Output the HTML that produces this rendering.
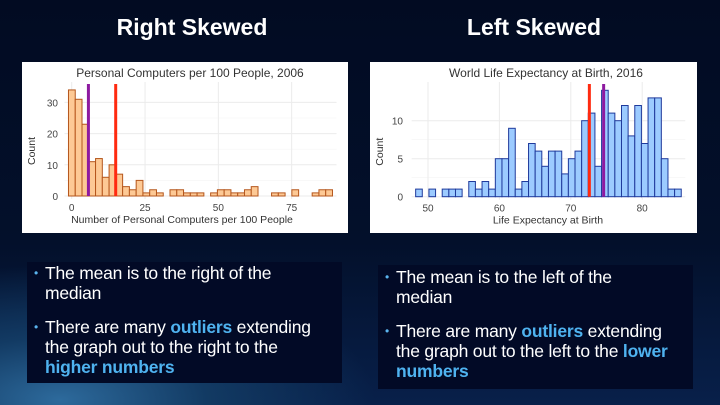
<!DOCTYPE html>
<html><head><meta charset="utf-8"><style>
body{margin:0;width:720px;height:405px;overflow:hidden;font-family:"Liberation Sans",Arial,sans-serif}
#bg{position:absolute;left:0;top:0;width:720px;height:405px;background:radial-gradient(ellipse 420px 180px at 60px 400px,#2d6a9c 0%,#123a63 35%,rgba(4,14,40,0) 75%),linear-gradient(180deg,#020b22 0%,#03102b 60%,#08204a 100%)}
.h{position:absolute;top:14px;color:#fff;font-weight:bold;font-size:23px;width:300px;text-align:center}
.panel{position:absolute;background:#fff}
.box{position:absolute;background:#020a26;color:#fff;font-size:17.5px;line-height:20px;letter-spacing:-0.2px}
.box ul{margin:0;padding:0 0 0 18px;list-style:none}
.box li{position:relative;margin-bottom:14px}
.box li:before{content:"•";position:absolute;left:-11px;color:#5ab4ee;font-size:12px}
.hl{color:#4fb3f0;font-weight:bold}
svg text{font-family:"Liberation Sans",Arial,sans-serif}
</style></head><body>
<div id="bg"></div>
<div class="h" style="left:42px">Right Skewed</div>
<div class="h" style="left:384px">Left Skewed</div>
<svg class="panel" style="left:22px;top:62px" width="326" height="171" id="c1"></svg>
<svg class="panel" style="left:370px;top:62px" width="327" height="171" id="c2"></svg>
<div class="box" style="left:27px;top:262px;width:315px;height:120px;padding-top:1px">
<ul style="width:282px"><li>The mean is to the right of the median</li>
<li>There are many <span class="hl">outliers</span> extending the graph out to the right to the <span class="hl">higher numbers</span></li></ul></div>
<div class="box" style="left:378px;top:265px;width:315px;height:122px;padding-top:2px">
<ul style="width:272px"><li>The mean is to the left of the median</li>
<li>There are many <span class="hl">outliers</span> extending the graph out to the left to the <span class="hl">lower numbers</span></li></ul></div>
<script>
const pcCounts=[34,31,23,11,12,6,10,7,3,2,5,1,2,1,0,2,2,1,1,1,0,1,2,2,1,1,2,3,0,0,1,1,0,2,0,0,1,2,2];
const pcStart=-1.1, pcBin=2.308;
const pcXTicks=[0,25,50,75], pcYTicks=[0,10,20,30];
const pcMean=15.0, pcMedian=5.7;
const leCounts=[1,0,1,0,1,1,1,0,2,1,2,1,5,5,9,1,2,7,6,4,6,6,3,5,6,10,11,4,14,11,10,12,8,12,7,13,13,5,1,1];
const leStart=48.27, leBin=0.93;
const leXTicks=[50,60,70,80], leYTicks=[0,5,10];
const leMean=72.6, leMedian=74.6;
const NS="http://www.w3.org/2000/svg";
function mk(svg,tag,attrs,txt){const e=document.createElementNS(NS,tag);for(const k in attrs)e.setAttribute(k,attrs[k]);if(txt!==undefined)e.textContent=txt;svg.appendChild(e);return e;}
function draw(id,o){
 const svg=document.getElementById(id);
 const sx=v=>o.x0+(v-o.v0)*o.kx, sy=c=>o.y0-c*o.ky;
 const t=mk(svg,'text',{x:o.tx,y:15,'font-size':12,fill:'#333','text-anchor':'middle'},o.title);
 
 const xmin=sx(o.start)-4,xmax=sx(o.start+o.counts.length*o.bin)+4;
 o.yt.forEach((v,i)=>{mk(svg,'line',{x1:xmin,x2:xmax,y1:sy(v),y2:sy(v),stroke:'#ebebeb','stroke-width':1});
  if(i<o.yt.length-1){const m=(v+o.yt[i+1])/2;mk(svg,'line',{x1:xmin,x2:xmax,y1:sy(m),y2:sy(m),stroke:'#f4f4f4','stroke-width':0.6});}
  const l=mk(svg,'text',{x:o.lx,y:sy(v)+4,'font-size':10,fill:'#444','text-anchor':'end'},v);
  });
 o.xt.forEach(v=>{mk(svg,'line',{x1:sx(v),x2:sx(v),y1:20,y2:o.y0+3,stroke:'#ebebeb','stroke-width':1});
  const l=mk(svg,'text',{x:sx(v),y:o.y0+15,'font-size':10,fill:'#444','text-anchor':'middle'},v);
  });
 o.counts.forEach((c,i)=>{const x1=sx(o.start+i*o.bin),x2=sx(o.start+(i+1)*o.bin);
  const r=mk(svg,'rect',{x:x1,y:sy(c),width:x2-x1,height:c*o.ky,fill:o.fill,stroke:o.stroke,'stroke-width':1});
  });
 [[o.mean,'#ff2a10','mean-line'],[o.median,'#8e1aa0','median-line']].forEach(([v,c,n])=>{
  const l=mk(svg,'line',{x1:sx(v),x2:sx(v),y1:22,y2:o.y0,stroke:c,'stroke-width':3});
  });
 const xl=mk(svg,'text',{x:o.xlx,y:o.y0+27,'font-size':10.5,fill:'#333','text-anchor':'middle'},o.xlab);
 
 const yl=mk(svg,'text',{x:0,y:0,'font-size':10.5,fill:'#333','text-anchor':'middle',transform:`translate(13,${o.y0-45}) rotate(-90)`},'Count');
 
}
draw('c1',{counts:pcCounts,start:pcStart,bin:pcBin,xt:pcXTicks,yt:pcYTicks,mean:pcMean,median:pcMedian,
 x0:49.7,v0:0,kx:2.933,y0:134,ky:3.12,lx:36,fill:'#fdc995',stroke:'#b5561c',title:'Personal Computers per 100 People, 2006',tx:168,xlab:'Number of Personal Computers per 100 People',xlx:160});
draw('c2',{counts:leCounts,start:leStart,bin:leBin,xt:leXTicks,yt:leYTicks,mean:leMean,median:leMedian,
 x0:58,v0:50,kx:7.14,y0:134.7,ky:7.6,lx:33,fill:'#9ccbff',stroke:'#1f3a9c',title:'World Life Expectancy at Birth, 2016',tx:176,xlab:'Life Expectancy at Birth',xlx:178});
</script>
</body></html>
